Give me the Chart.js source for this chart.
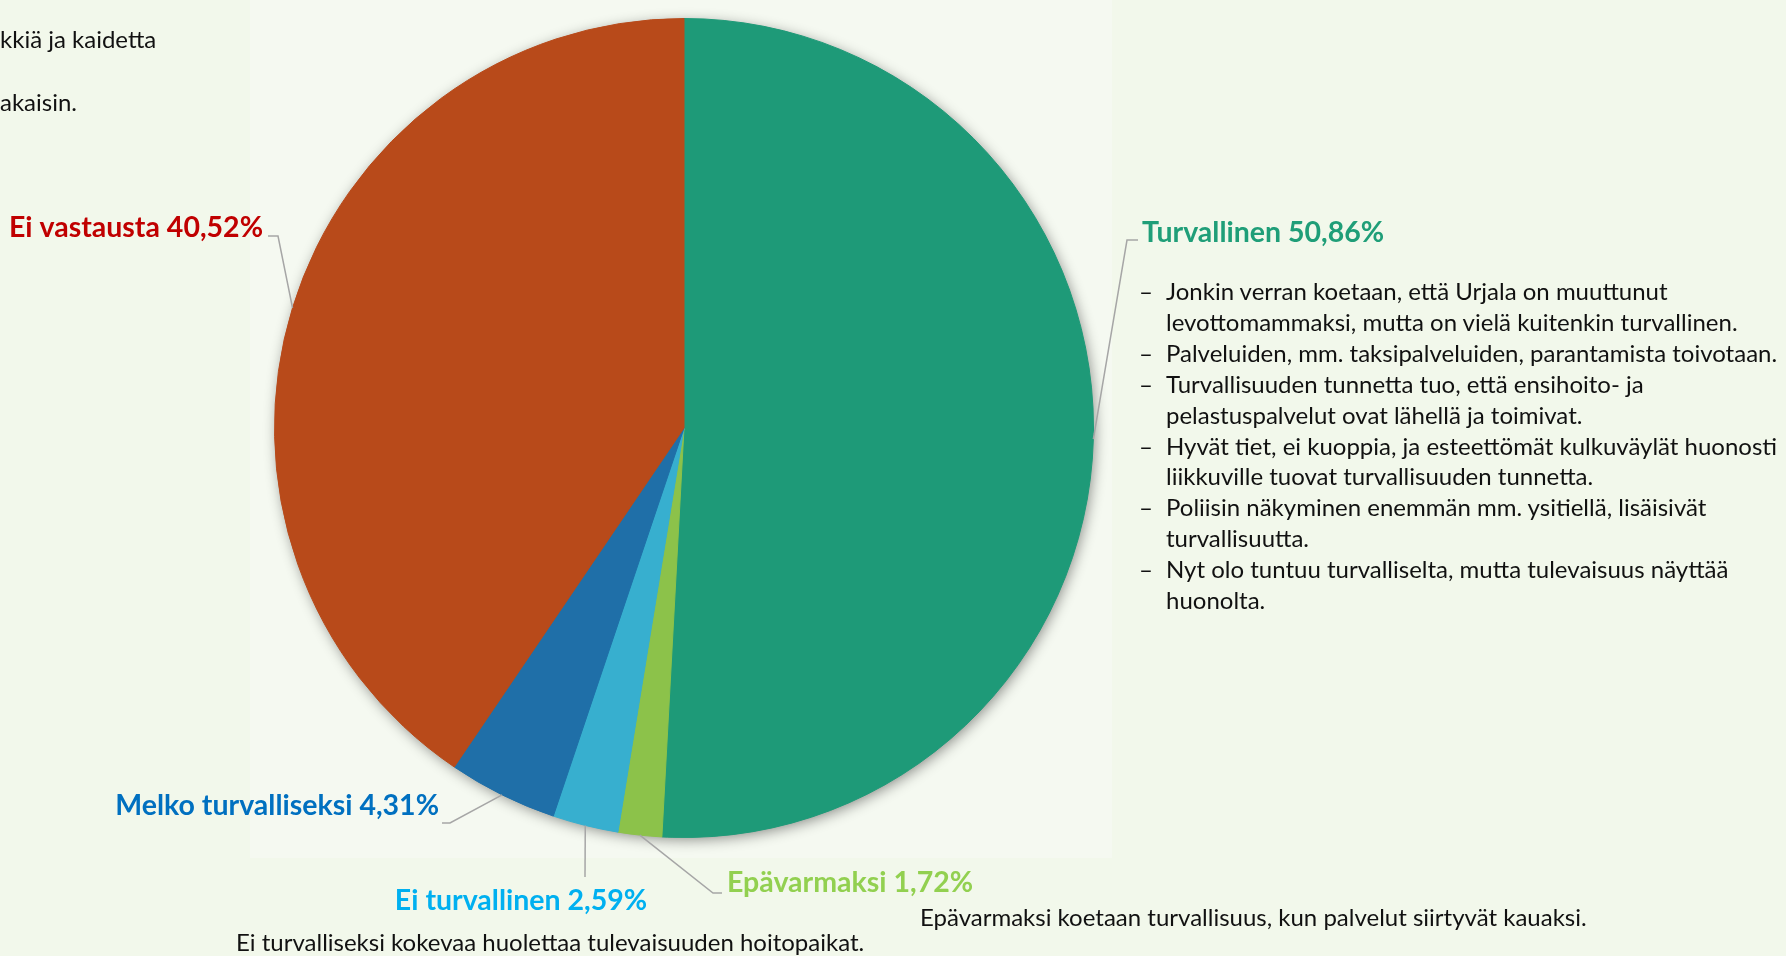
<!DOCTYPE html>
<html lang="fi">
<head>
<meta charset="utf-8">
<title>Turvallisuuden tunne</title>
<script src="https://cdn.jsdelivr.net/npm/chart.js@4.4.1/dist/chart.umd.min.js"></script>
<style>
  html, body { margin: 0; padding: 0; background: #F2F8EB; }
  #wrap { position: relative; width: 1786px; height: 956px; overflow: hidden; }
  #pie { position: absolute; left: 0; top: 0; }
  .note {
    position: absolute;
    font-family: Lato, "Noto Sans", sans-serif;
    font-size: 24px;
    line-height: 30.9px;
    color: #111;
    white-space: nowrap;
  }
  .item { display: flex; }
  .item .dash { width: 27px; flex: none; }
</style>
</head>
<body>
<div id="wrap">
  <canvas id="pie" width="1786" height="956"></canvas>

  <div class="note" style="left:0; top:24px;">kkiä ja kaidetta</div>
  <div class="note" style="left:0; top:87px;">akaisin.</div>

  <div class="note" id="bullets" style="left:1139px; top:276px;"></div>

  <div class="note" style="left:920px; top:902px;">Epävarmaksi koetaan turvallisuus, kun palvelut siirtyvät kauaksi.</div>
  <div class="note" style="left:236px; top:927px;">Ei turvalliseksi kokevaa huolettaa tulevaisuuden hoitopaikat.</div>
</div>

<script>
// data, clockwise from 12 o'clock
const categories = ['Turvallinen', 'Epävarmaksi', 'Ei turvallinen', 'Melko turvalliseksi', 'Ei vastausta'];
const shares = [50.86, 1.72, 2.59, 4.31, 40.52];

const sliceColors = ['#1E9A78', '#8CC24A', '#37AFCF', '#1F6FA8', '#B84A1A'];
const labelColors = ['#1F9E78', '#92D050', '#00B0F0', '#0070C0', '#C00000'];

// comments next to "Turvallinen"
const safeComments = [
  ['Jonkin verran koetaan, että Urjala on muuttunut', 'levottomammaksi, mutta on vielä kuitenkin turvallinen.'],
  ['Palveluiden, mm. taksipalveluiden, parantamista toivotaan.'],
  ['Turvallisuuden tunnetta tuo, että ensihoito- ja', 'pelastuspalvelut ovat lähellä ja toimivat.'],
  ['Hyvät tiet, ei kuoppia, ja esteettömät kulkuväylät huonosti', 'liikkuville tuovat turvallisuuden tunnetta.'],
  ['Poliisin näkyminen enemmän mm. ysitiellä, lisäisivät', 'turvallisuutta.'],
  ['Nyt olo tuntuu turvalliselta, mutta tulevaisuus näyttää', 'huonolta.']
];

// where each label sits and how its leader line bends
const labelLayout = [
  { x: 1142, y: 242, align: 'left',   elbow: [1127, 240], end: [1138, 240] },
  { x: 727,  y: 892, align: 'left',   elbow: [713, 893],  end: [722, 893] },
  { x: 521,  y: 910, align: 'center', elbow: [585, 877],  end: [585, 877] },
  { x: 439,  y: 815, align: 'right',  elbow: [450, 823],  end: [442, 823] },
  { x: 263,  y: 237, align: 'right',  elbow: [278, 236],  end: [268, 236] }
];

const bulletBox = document.getElementById('bullets');
safeComments.forEach(lines => {
  const row = document.createElement('div');
  row.className = 'item';
  const dash = document.createElement('span');
  dash.className = 'dash';
  dash.textContent = '–';
  const txt = document.createElement('span');
  txt.innerHTML = lines.join('<br>');
  row.appendChild(dash);
  row.appendChild(txt);
  bulletBox.appendChild(row);
});

function fmt(v) {
  return v.toFixed(2).replace('.', ',') + '%';
}

const backdrop = {
  id: 'backdrop',
  beforeDraw(chart) {
    const ctx = chart.ctx;
    ctx.save();
    ctx.fillStyle = '#F2F8EB';
    ctx.fillRect(0, 0, chart.width, chart.height);
    ctx.fillStyle = '#F5F9F1';
    ctx.fillRect(250, 0, 862, 858);
    ctx.restore();
  },
  beforeDatasetsDraw(chart) {
    // soft shadow under the whole pie
    const arc = chart.getDatasetMeta(0).data[0];
    const ctx = chart.ctx;
    ctx.save();
    ctx.shadowColor = 'rgba(0,0,0,0.45)';
    ctx.shadowBlur = 14;
    ctx.shadowOffsetX = 2;
    ctx.shadowOffsetY = 3;
    ctx.fillStyle = sliceColors[0];
    ctx.beginPath();
    ctx.arc(arc.x, arc.y, arc.outerRadius - 1, 0, Math.PI * 2);
    ctx.fill();
    ctx.restore();
  }
};

const sliceLabels = {
  id: 'sliceLabels',
  afterDatasetsDraw(chart) {
    const ctx = chart.ctx;
    const meta = chart.getDatasetMeta(0);
    ctx.save();
    meta.data.forEach((arc, i) => {
      const lay = labelLayout[i];
      const mid = (arc.startAngle + arc.endAngle) / 2;
      const ex = arc.x + Math.cos(mid) * arc.outerRadius;
      const ey = arc.y + Math.sin(mid) * arc.outerRadius;

      ctx.strokeStyle = '#A6A6A6';
      ctx.lineWidth = 1.5;
      ctx.beginPath();
      ctx.moveTo(ex, ey);
      ctx.lineTo(lay.elbow[0], lay.elbow[1]);
      ctx.lineTo(lay.end[0], lay.end[1]);
      ctx.stroke();

      ctx.font = 'bold 28.5px Lato, "Noto Sans", sans-serif';
      ctx.fillStyle = labelColors[i];
      ctx.textAlign = lay.align;
      ctx.textBaseline = 'alphabetic';
      ctx.fillText(categories[i] + ' ' + fmt(shares[i]), lay.x, lay.y);
    });
    ctx.restore();
  }
};

new Chart(document.getElementById('pie'), {
  type: 'pie',
  data: {
    labels: categories,
    datasets: [{
      data: shares,
      backgroundColor: sliceColors,
      borderColor: sliceColors,
      borderWidth: 1
    }]
  },
  options: {
    responsive: false,
    animation: false,
    layout: { padding: { left: 274, right: 692, top: 18, bottom: 118 } },
    plugins: {
      legend: { display: false },
      tooltip: { enabled: false }
    }
  },
  plugins: [backdrop, sliceLabels]
});
</script>
</body>
</html>
